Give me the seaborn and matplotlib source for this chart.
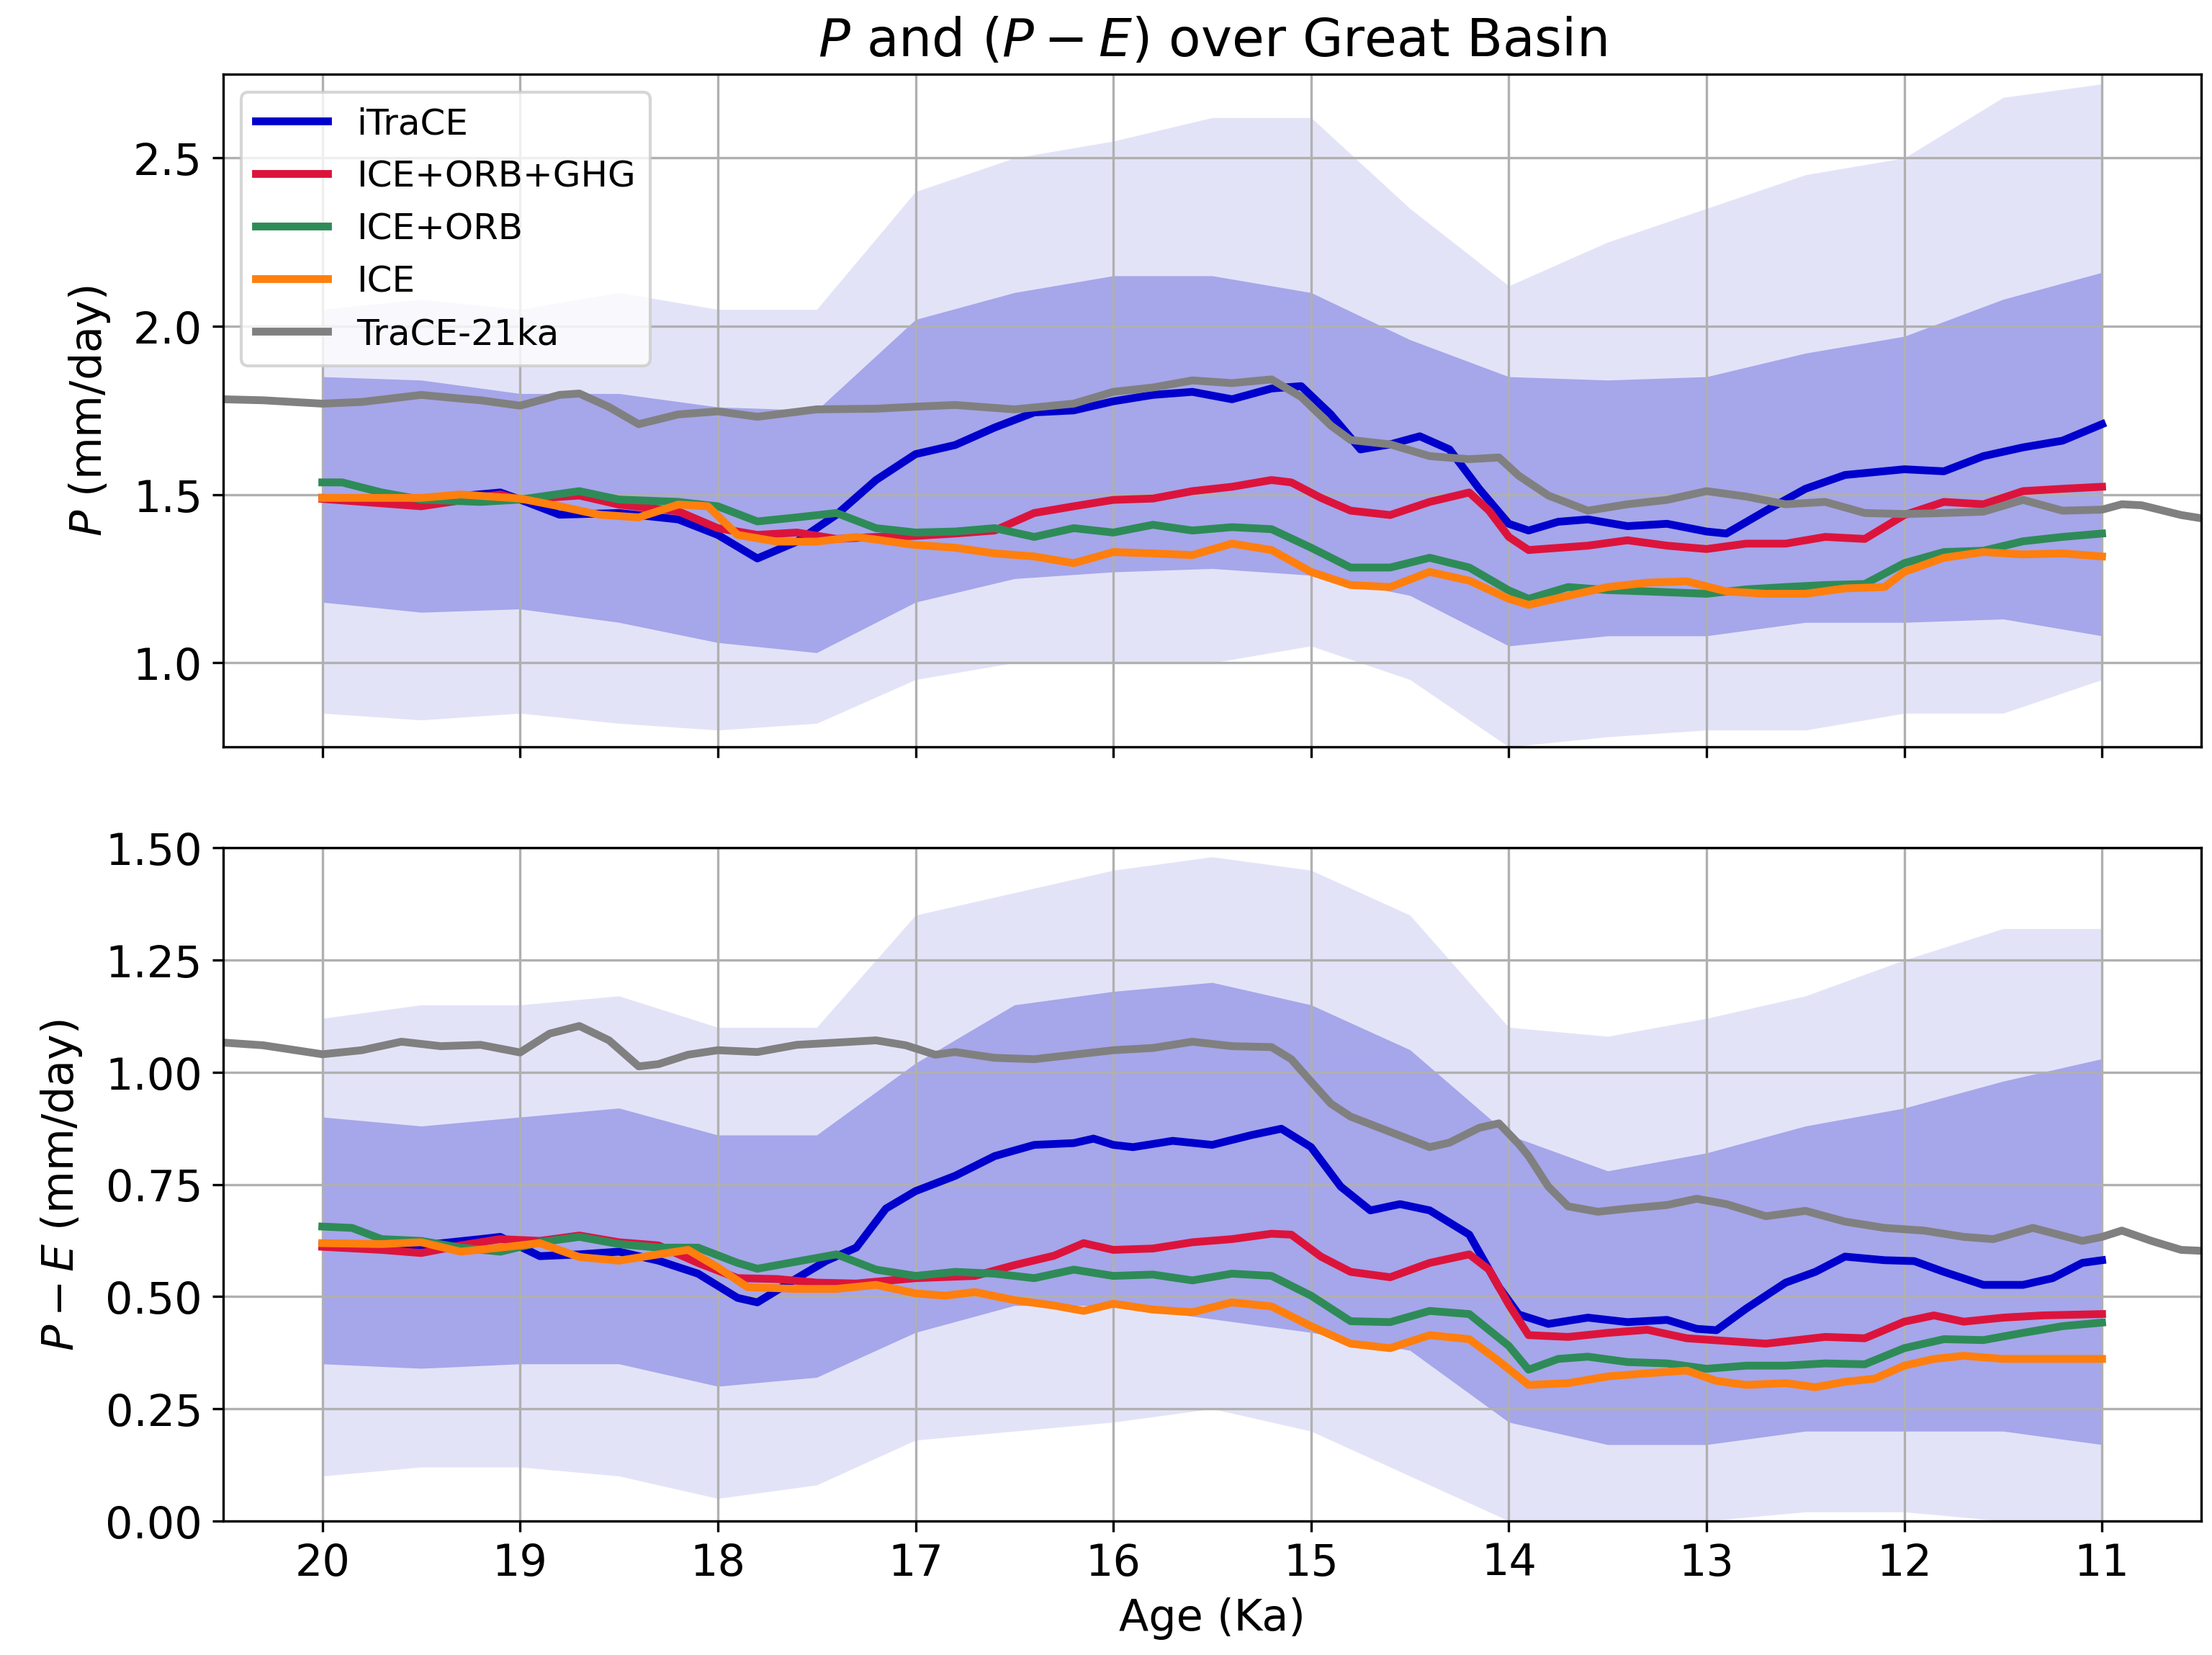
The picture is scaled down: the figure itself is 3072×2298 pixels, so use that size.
import numpy as np
import pandas as pd
import seaborn as sns
import matplotlib
matplotlib.use('Agg')
import matplotlib.pyplot as plt

# ---- P (mm/day) ----
trace_p_age = [20.6, 20.5, 20.3, 20.0, 19.8, 19.5, 19.3, 19.2, 19.0, 18.8, 18.7, 18.55, 18.4, 18.2,
               18.0, 17.8, 17.5, 17.2, 17.0, 16.8, 16.5, 16.2, 16.0, 15.8, 15.6, 15.4, 15.2, 15.05,
               14.9, 14.8, 14.6, 14.4, 14.2, 14.05, 13.95, 13.8, 13.6, 13.4, 13.2, 13.0, 12.8, 12.6,
               12.4, 12.2, 12.0, 11.8, 11.6, 11.4, 11.2, 11.0, 10.9, 10.8, 10.6, 10.4]
trace_p = [1.78, 1.783, 1.78, 1.77, 1.775, 1.796, 1.785, 1.78, 1.764, 1.796, 1.80, 1.76, 1.709, 1.738,
           1.747, 1.731, 1.753, 1.755, 1.761, 1.766, 1.753, 1.77, 1.805, 1.818, 1.839, 1.831, 1.842, 1.79,
           1.705, 1.662, 1.649, 1.614, 1.605, 1.61, 1.556, 1.497, 1.452, 1.471, 1.484, 1.51, 1.494, 1.471,
           1.478, 1.445, 1.442, 1.445, 1.449, 1.484, 1.452, 1.455, 1.471, 1.468, 1.439, 1.42]

itrace_p_age = [20.0, 19.5, 19.1, 19.0, 18.8, 18.5, 18.2, 18.0, 17.8, 17.6, 17.4, 17.2, 17.0, 16.8,
                16.6, 16.4, 16.2, 16.0, 15.8, 15.6, 15.4, 15.2, 15.05, 14.9, 14.75, 14.6, 14.45, 14.3,
                14.15, 14.0, 13.9, 13.75, 13.6, 13.4, 13.2, 13.0, 12.9, 12.7, 12.5, 12.3, 12.0, 11.8,
                11.6, 11.4, 11.2, 11.0]
itrace_p = [1.49, 1.485, 1.506, 1.485, 1.44, 1.445, 1.426, 1.38, 1.31, 1.36, 1.44, 1.543, 1.62, 1.647,
            1.699, 1.744, 1.75, 1.777, 1.796, 1.805, 1.783, 1.815, 1.822, 1.738, 1.634, 1.649, 1.673, 1.634,
            1.517, 1.413, 1.393, 1.419, 1.426, 1.406, 1.413, 1.39, 1.384, 1.452, 1.517, 1.558, 1.575, 1.569,
            1.614, 1.64, 1.66, 1.709]

ghg_p_age = [20.0, 19.5, 19.1, 19.0, 18.7, 18.5, 18.2, 18.0, 17.8, 17.6, 17.4, 17.2, 17.0, 16.8, 16.6,
             16.4, 16.2, 16.0, 15.8, 15.6, 15.4, 15.2, 15.1, 14.95, 14.8, 14.6, 14.4, 14.2, 14.1, 14.0,
             13.9, 13.6, 13.4, 13.2, 13.0, 12.8, 12.6, 12.4, 12.2, 12.0, 11.8, 11.6, 11.4, 11.2, 11.0]
ghg_p = [1.487, 1.465, 1.50, 1.485, 1.497, 1.47, 1.45, 1.40, 1.38, 1.387, 1.368, 1.374, 1.377, 1.384, 1.393,
         1.445, 1.465, 1.484, 1.488, 1.51, 1.523, 1.543, 1.536, 1.49, 1.452, 1.439, 1.478, 1.506, 1.452, 1.374,
         1.335, 1.348, 1.364, 1.348, 1.338, 1.354, 1.354, 1.374, 1.368, 1.439, 1.478, 1.471, 1.51, 1.517, 1.523]

orb_p_age = [20.0, 19.9, 19.7, 19.5, 19.2, 19.0, 18.7, 18.5, 18.2, 18.0, 17.8, 17.6, 17.4, 17.2, 17.0,
             16.8, 16.6, 16.4, 16.2, 16.0, 15.8, 15.6, 15.4, 15.2, 15.0, 14.8, 14.6, 14.4, 14.2, 14.0,
             13.9, 13.7, 13.5, 13.3, 13.0, 12.8, 12.6, 12.4, 12.2, 12.0, 11.8, 11.6, 11.4, 11.2, 11.0]
orb_p = [1.536, 1.536, 1.506, 1.485, 1.478, 1.485, 1.51, 1.485, 1.478, 1.465, 1.42, 1.432, 1.445, 1.40, 1.387,
         1.39, 1.40, 1.374, 1.40, 1.387, 1.41, 1.393, 1.403, 1.397, 1.342, 1.283, 1.283, 1.312, 1.283, 1.215,
         1.19, 1.225, 1.216, 1.212, 1.205, 1.218, 1.225, 1.231, 1.234, 1.296, 1.329, 1.333, 1.361, 1.374, 1.384]

ice_p_age = [20.0, 19.5, 19.3, 19.0, 18.8, 18.6, 18.4, 18.2, 18.05, 17.9, 17.7, 17.5, 17.3, 17.0, 16.8,
             16.6, 16.4, 16.2, 16.0, 15.8, 15.6, 15.4, 15.2, 15.0, 14.8, 14.6, 14.4, 14.2, 14.0, 13.9,
             13.7, 13.5, 13.3, 13.1, 12.9, 12.7, 12.5, 12.3, 12.1, 12.0, 11.8, 11.6, 11.4, 11.2, 11.0]
ice_p = [1.49, 1.49, 1.50, 1.488, 1.465, 1.44, 1.432, 1.47, 1.465, 1.38, 1.36, 1.36, 1.374, 1.35, 1.342,
         1.325, 1.316, 1.296, 1.329, 1.325, 1.32, 1.354, 1.335, 1.27, 1.231, 1.225, 1.27, 1.244, 1.19, 1.172,
         1.199, 1.225, 1.238, 1.242, 1.212, 1.205, 1.205, 1.221, 1.225, 1.27, 1.312, 1.329, 1.322, 1.325, 1.316]

# annual iTraCE P: spread of the raw series (dense part and extreme spikes)
raw_age = [20.0, 19.5, 19.0, 18.5, 18.0, 17.5, 17.0, 16.5, 16.0, 15.5, 15.0, 14.5, 14.0, 13.5, 13.0,
           12.5, 12.0, 11.5, 11.0]
raw_p_lo = [1.18, 1.15, 1.16, 1.12, 1.06, 1.03, 1.18, 1.25, 1.27, 1.28, 1.26, 1.20, 1.05, 1.08, 1.08,
            1.12, 1.12, 1.13, 1.08]
raw_p_hi = [1.85, 1.84, 1.80, 1.80, 1.76, 1.75, 2.02, 2.10, 2.15, 2.15, 2.10, 1.96, 1.85, 1.84, 1.85,
            1.92, 1.97, 2.08, 2.16]
raw_p_min = [0.85, 0.83, 0.85, 0.82, 0.80, 0.82, 0.95, 1.00, 1.00, 1.00, 1.05, 0.95, 0.75, 0.78, 0.80,
             0.80, 0.85, 0.85, 0.95]
raw_p_max = [2.05, 2.08, 2.05, 2.10, 2.05, 2.05, 2.40, 2.50, 2.55, 2.62, 2.62, 2.35, 2.12, 2.25, 2.35,
             2.45, 2.50, 2.68, 2.72]

# ---- P - E (mm/day) ----
trace_pe_age = [20.6, 20.5, 20.3, 20.0, 19.8, 19.6, 19.4, 19.2, 19.0, 18.85, 18.7, 18.55, 18.4, 18.3,
                18.15, 18.0, 17.8, 17.6, 17.4, 17.2, 17.05, 16.9, 16.8, 16.6, 16.4, 16.2, 16.0, 15.8,
                15.6, 15.4, 15.2, 15.1, 15.0, 14.9, 14.8, 14.6, 14.4, 14.3, 14.15, 14.05, 13.95, 13.9,
                13.8, 13.7, 13.55, 13.4, 13.2, 13.05, 12.9, 12.7, 12.5, 12.3, 12.1, 11.9, 11.7, 11.55,
                11.35, 11.1, 11.0, 10.9, 10.75, 10.6, 10.4]
trace_pe = [1.065, 1.066, 1.06, 1.04, 1.049, 1.068, 1.058, 1.061, 1.044, 1.086, 1.103, 1.071, 1.013, 1.018,
            1.039, 1.049, 1.045, 1.061, 1.066, 1.071, 1.06, 1.039, 1.045, 1.032, 1.029, 1.039, 1.049, 1.054,
            1.068, 1.058, 1.056, 1.029, 0.979, 0.93, 0.901, 0.867, 0.833, 0.843, 0.876, 0.886, 0.84, 0.813,
            0.745, 0.701, 0.689, 0.696, 0.704, 0.718, 0.706, 0.679, 0.691, 0.667, 0.653, 0.647, 0.633, 0.628,
            0.653, 0.624, 0.633, 0.647, 0.624, 0.604, 0.60]

itrace_pe_age = [20.0, 19.5, 19.2, 19.1, 18.9, 18.7, 18.5, 18.3, 18.1, 17.9, 17.8, 17.6, 17.45, 17.3,
                 17.15, 17.0, 16.8, 16.6, 16.4, 16.2, 16.1, 16.0, 15.9, 15.7, 15.5, 15.3, 15.15, 15.0,
                 14.85, 14.7, 14.55, 14.4, 14.2, 14.05, 13.95, 13.8, 13.6, 13.4, 13.2, 13.05, 12.95, 12.8,
                 12.6, 12.45, 12.3, 12.1, 11.95, 11.8, 11.6, 11.4, 11.25, 11.1, 11.0]
itrace_pe = [0.614, 0.614, 0.628, 0.633, 0.59, 0.594, 0.60, 0.58, 0.551, 0.497, 0.487, 0.541, 0.58, 0.609,
             0.696, 0.735, 0.769, 0.813, 0.838, 0.842, 0.852, 0.838, 0.833, 0.847, 0.838, 0.86, 0.874, 0.833,
             0.745, 0.692, 0.706, 0.692, 0.638, 0.521, 0.46, 0.439, 0.453, 0.443, 0.448, 0.428, 0.425, 0.473,
             0.531, 0.555, 0.589, 0.581, 0.579, 0.555, 0.526, 0.526, 0.541, 0.575, 0.581]

ghg_pe_age = [20.0, 19.7, 19.5, 19.3, 19.1, 18.9, 18.7, 18.5, 18.3, 18.1, 17.9, 17.7, 17.5, 17.3, 17.0,
              16.7, 16.5, 16.3, 16.15, 16.0, 15.8, 15.6, 15.4, 15.2, 15.1, 14.95, 14.8, 14.6, 14.4, 14.2,
              14.1, 14.0, 13.9, 13.7, 13.5, 13.3, 13.1, 12.9, 12.7, 12.4, 12.2, 12.0, 11.85, 11.7, 11.5,
              11.3, 11.0]
ghg_pe = [0.611, 0.604, 0.597, 0.614, 0.628, 0.624, 0.636, 0.621, 0.614, 0.575, 0.541, 0.539, 0.531, 0.529,
          0.541, 0.546, 0.57, 0.591, 0.619, 0.604, 0.607, 0.621, 0.628, 0.64, 0.638, 0.589, 0.555, 0.543, 0.575,
          0.594, 0.56, 0.482, 0.414, 0.41, 0.419, 0.426, 0.407, 0.401, 0.395, 0.41, 0.407, 0.444, 0.458, 0.444,
          0.453, 0.458, 0.461]

orb_pe_age = [20.0, 19.85, 19.7, 19.5, 19.3, 19.1, 18.9, 18.7, 18.5, 18.3, 18.1, 17.9, 17.8, 17.6, 17.4,
              17.2, 17.0, 16.8, 16.6, 16.4, 16.2, 16.0, 15.8, 15.6, 15.4, 15.2, 15.0, 14.8, 14.6, 14.4,
              14.2, 14.0, 13.9, 13.75, 13.6, 13.4, 13.2, 13.0, 12.8, 12.6, 12.4, 12.2, 12.0, 11.8, 11.6,
              11.4, 11.2, 11.0]
orb_pe = [0.656, 0.653, 0.628, 0.624, 0.609, 0.60, 0.621, 0.633, 0.617, 0.609, 0.609, 0.575, 0.562, 0.578,
          0.594, 0.56, 0.546, 0.555, 0.551, 0.541, 0.56, 0.546, 0.549, 0.536, 0.551, 0.546, 0.502, 0.445, 0.443,
          0.468, 0.461, 0.39, 0.337, 0.361, 0.366, 0.354, 0.351, 0.339, 0.346, 0.346, 0.351, 0.349, 0.385, 0.405,
          0.403, 0.419, 0.434, 0.442]

ice_pe_age = [20.0, 19.7, 19.5, 19.3, 19.1, 18.9, 18.7, 18.5, 18.3, 18.15, 18.0, 17.85, 17.6, 17.4, 17.2,
              17.0, 16.85, 16.7, 16.5, 16.3, 16.15, 16.0, 15.8, 15.6, 15.4, 15.2, 15.0, 14.8, 14.6, 14.4,
              14.2, 14.05, 13.9, 13.7, 13.5, 13.3, 13.1, 12.95, 12.8, 12.6, 12.45, 12.3, 12.15, 12.0, 11.85,
              11.7, 11.5, 11.3, 11.0]
ice_pe = [0.619, 0.617, 0.621, 0.60, 0.609, 0.619, 0.588, 0.58, 0.594, 0.604, 0.565, 0.521, 0.517, 0.517, 0.526,
          0.507, 0.502, 0.51, 0.492, 0.48, 0.468, 0.484, 0.471, 0.465, 0.487, 0.478, 0.434, 0.395, 0.385, 0.414,
          0.405, 0.356, 0.303, 0.307, 0.322, 0.329, 0.335, 0.312, 0.303, 0.307, 0.298, 0.31, 0.317, 0.346, 0.361,
          0.368, 0.361, 0.361, 0.361]

raw_pe_lo = [0.35, 0.34, 0.35, 0.35, 0.30, 0.32, 0.42, 0.48, 0.48, 0.45, 0.42, 0.38, 0.22, 0.17, 0.17,
             0.20, 0.20, 0.20, 0.17]
raw_pe_hi = [0.90, 0.88, 0.90, 0.92, 0.86, 0.86, 1.02, 1.15, 1.18, 1.20, 1.15, 1.05, 0.86, 0.78, 0.82,
             0.88, 0.92, 0.98, 1.03]
raw_pe_min = [0.10, 0.12, 0.12, 0.10, 0.05, 0.08, 0.18, 0.20, 0.22, 0.25, 0.20, 0.10, 0.00, 0.00, 0.00,
              0.02, 0.02, 0.00, 0.00]
raw_pe_max = [1.12, 1.15, 1.15, 1.17, 1.10, 1.10, 1.35, 1.40, 1.45, 1.48, 1.45, 1.35, 1.10, 1.08, 1.12,
              1.17, 1.25, 1.32, 1.32]

names = ['iTraCE', 'ICE+ORB+GHG', 'ICE+ORB', 'ICE', 'TraCE-21ka']
colors = ['mediumblue', 'crimson', 'seagreen', '#ff7f0e', 'gray']

plt.rcParams['font.size'] = 14.5

fig, axes = plt.subplots(2, 1, figsize=(10.24, 7.663), dpi=300, sharex=True)
fig.subplots_adjust(left=0.101, right=0.995, top=0.955, bottom=0.081, hspace=0.15)

panels = [
    (axes[0], [(itrace_p_age, itrace_p), (ghg_p_age, ghg_p), (orb_p_age, orb_p), (ice_p_age, ice_p),
               (trace_p_age, trace_p)], raw_p_lo, raw_p_hi, raw_p_min, raw_p_max),
    (axes[1], [(itrace_pe_age, itrace_pe), (ghg_pe_age, ghg_pe), (orb_pe_age, orb_pe), (ice_pe_age, ice_pe),
               (trace_pe_age, trace_pe)], raw_pe_lo, raw_pe_hi, raw_pe_min, raw_pe_max),
]

for ax, series, lo, hi, mn, mx in panels:
    # raw annual iTraCE values, shown as their spread
    ax.fill_between(raw_age, mn, mx, color='#e3e3f8', lw=0)
    ax.fill_between(raw_age, lo, hi, color='#a6a6ea', lw=0)
    for (age, vals), name, c in zip(series, names, colors):
        df = pd.DataFrame({'age': age, 'val': vals})
        sns.lineplot(data=df, x='age', y='val', ax=ax, color=c, lw=2.6, label=name,
                     sort=False, estimator=None)
    ax.grid(True)

axes[0].set_xlim(20.5, 10.5)
axes[0].set_ylim(0.75, 2.75)
axes[0].set_yticks([1.0, 1.5, 2.0, 2.5])
axes[1].set_ylim(0, 1.5)
axes[1].set_yticks([0, 0.25, 0.5, 0.75, 1.0, 1.25, 1.5])
axes[1].set_xticks(range(11, 21))

axes[0].set_ylabel('$P$ (mm/day)', labelpad=7)
axes[1].set_ylabel('$P-E$ (mm/day)', labelpad=7)
axes[0].set_xlabel('')
axes[1].set_xlabel('Age (Ka)')
axes[0].set_title('$P$ and $(P-E)$ over Great Basin', fontsize=17.5)
axes[0].legend(loc='upper left', fontsize=12)
axes[1].get_legend().remove()

fig.savefig('out.png', dpi=300)
